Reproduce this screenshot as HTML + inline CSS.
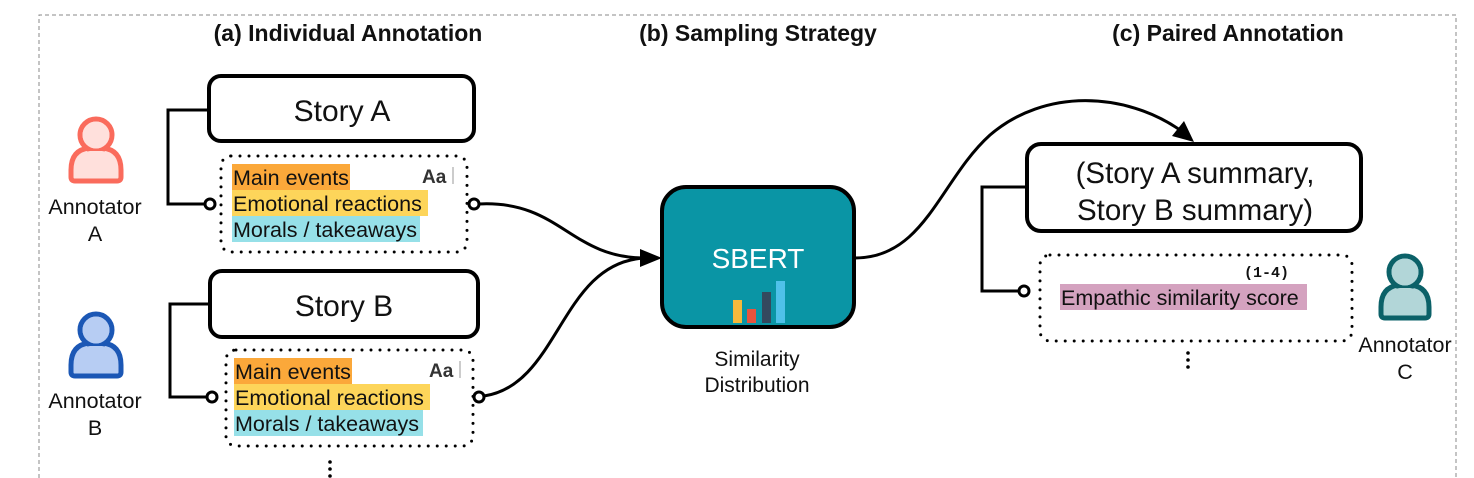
<!DOCTYPE html>
<html><head><meta charset="utf-8"><style>
html,body{margin:0;padding:0;background:#fff;}
svg{display:block;}
text{font-family:"Liberation Sans","DejaVu Sans",sans-serif;}
text.mono{font-family:"Liberation Mono","DejaVu Sans Mono",monospace;}
</style></head><body>
<svg width="1474" height="478" viewBox="0 0 1474 478" xmlns="http://www.w3.org/2000/svg">
<!-- dashed frame -->
<path d="M39,478 V15 H1456 V478" fill="none" stroke="#888" stroke-width="1" stroke-dasharray="4,3"/>

<!-- headers -->
<g font-weight="bold" font-size="23" text-anchor="middle" fill="#111">
<text x="348" y="41">(a) Individual Annotation</text>
<text x="758" y="41">(b) Sampling Strategy</text>
<text x="1228" y="41">(c) Paired Annotation</text>
</g>

<!-- person icons -->
<g>
<path d="M71,177 V170 Q71,150 89,148 H103 Q121,150 121,170 V177 Q121,181 117,181 H75 Q71,181 71,177 Z" fill="#ffe0dc" stroke="#fa6b5c" stroke-width="5"/>
<circle cx="96" cy="135" r="16" fill="#ffe0dc" stroke="#fa6b5c" stroke-width="5"/>
<path d="M74,177 V170 Q74,153 90,151 H102 Q118,153 118,170 V177 Z" fill="#ffe0dc"/>
<circle cx="96" cy="135" r="13.5" fill="#ffe0dc"/>
</g>
<g>
<path d="M71,372 V365 Q71,345 89,343 H103 Q121,345 121,365 V372 Q121,376 117,376 H75 Q71,376 71,372 Z" fill="#b7cdf3" stroke="#1b57b5" stroke-width="5"/>
<circle cx="96" cy="330" r="16" fill="#b7cdf3" stroke="#1b57b5" stroke-width="5"/>
<path d="M74,372 V365 Q74,348 90,346 H102 Q118,348 118,365 V372 Z" fill="#b7cdf3"/>
<circle cx="96" cy="330" r="13.5" fill="#b7cdf3"/>
</g>
<g>
<path d="M1381,314 V307 Q1381,287 1399,285 H1411 Q1429,287 1429,307 V314 Q1429,318 1425,318 H1385 Q1381,318 1381,314 Z" fill="#b2d6d8" stroke="#0b6168" stroke-width="5"/>
<circle cx="1405" cy="272" r="16" fill="#b2d6d8" stroke="#0b6168" stroke-width="5"/>
<path d="M1384,314 V307 Q1384,290 1400,288 H1410 Q1426,290 1426,307 V314 Z" fill="#b2d6d8"/>
<circle cx="1405" cy="272" r="13.5" fill="#b2d6d8"/>
</g>
<g font-size="21.5" text-anchor="middle" fill="#111">
<text x="95" y="214">Annotator</text><text x="95" y="241">A</text>
<text x="95" y="408">Annotator</text><text x="95" y="435">B</text>
<text x="1405" y="352">Annotator</text><text x="1405" y="379">C</text>
</g>

<!-- Story A -->
<rect x="209" y="76" width="265" height="65" rx="12" fill="#fff" stroke="#000" stroke-width="4"/>
<text x="342" y="121" font-size="30" text-anchor="middle" fill="#111">Story A</text>
<rect x="221" y="156" width="246" height="96" rx="10" fill="none" stroke="#000" stroke-width="3" stroke-dasharray="0,9" stroke-linecap="round"/>
<rect x="232" y="164" width="118" height="26" fill="#fba83a"/>
<rect x="232" y="190" width="196" height="26" fill="#fdd55a"/>
<rect x="232" y="216" width="188" height="26" fill="#96e0e8"/>
<g font-size="21.5" fill="#111">
<text x="233" y="185">Main events</text>
<text x="233" y="211">Emotional reactions</text>
<text x="233" y="237">Morals / takeaways</text>
</g>
<text x="422" y="183" font-size="19" font-weight="bold" fill="#333">Aa</text>
<line x1="453" y1="167" x2="453" y2="184" stroke="#999" stroke-width="1"/>
<path d="M209,110 H168 V204 H206" fill="none" stroke="#000" stroke-width="3"/>
<circle cx="210" cy="204" r="5" fill="#fff" stroke="#000" stroke-width="3"/>

<!-- Story B -->
<rect x="210" y="271" width="268" height="66" rx="12" fill="#fff" stroke="#000" stroke-width="4"/>
<text x="344" y="316" font-size="30" text-anchor="middle" fill="#111">Story B</text>
<rect x="226" y="350" width="247" height="96" rx="10" fill="none" stroke="#000" stroke-width="3" stroke-dasharray="0,9" stroke-linecap="round"/>
<rect x="234" y="358" width="118" height="26" fill="#fba83a"/>
<rect x="234" y="384" width="196" height="26" fill="#fdd55a"/>
<rect x="234" y="410" width="189" height="26" fill="#96e0e8"/>
<g font-size="21.5" fill="#111">
<text x="235" y="379">Main events</text>
<text x="235" y="405">Emotional reactions</text>
<text x="235" y="431">Morals / takeaways</text>
</g>
<text x="429" y="377" font-size="19" font-weight="bold" fill="#333">Aa</text>
<line x1="460" y1="361" x2="460" y2="378" stroke="#999" stroke-width="1"/>
<path d="M210,304 H170 V397 H208" fill="none" stroke="#000" stroke-width="3"/>
<circle cx="212" cy="397" r="5" fill="#fff" stroke="#000" stroke-width="3"/>
<g fill="#000"><circle cx="330" cy="462" r="1.8"/><circle cx="330" cy="469" r="1.8"/><circle cx="330" cy="476" r="1.8"/></g>

<!-- connectors into SBERT -->
<circle cx="474" cy="204" r="5" fill="#fff" stroke="#000" stroke-width="3"/>
<path d="M479,204 C560,200 570,258 645,258" fill="none" stroke="#000" stroke-width="3"/>
<circle cx="479" cy="397" r="5" fill="#fff" stroke="#000" stroke-width="3"/>
<path d="M484,396 C560,385 560,262 645,258" fill="none" stroke="#000" stroke-width="3"/>
<path d="M640,249 L662,258 L640,267 Z" fill="#000"/>

<!-- SBERT -->
<rect x="662" y="187" width="192" height="140" rx="24" fill="#0a95a5" stroke="#000" stroke-width="4"/>
<text x="758" y="268" font-size="28" text-anchor="middle" fill="#fff">SBERT</text>
<rect x="733" y="300" width="9" height="23" fill="#f6b93b"/>
<rect x="747" y="309" width="9" height="14" fill="#e9533d"/>
<rect x="762" y="292" width="9" height="31" fill="#34495e"/>
<rect x="776" y="281" width="9" height="42" fill="#4fc1e9"/>
<g font-size="21" text-anchor="middle" fill="#111">
<text x="757" y="366">Similarity</text>
<text x="757" y="392">Distribution</text>
</g>

<!-- curve to summary -->
<path d="M855,258 C925,258 940,180 990,135 C1045,88 1125,92 1180,130" fill="none" stroke="#000" stroke-width="3"/>
<path d="M1172,136 L1194,142 L1184,121 Z" fill="#000"/>

<!-- Summary box -->
<rect x="1027" y="144" width="334" height="87" rx="14" fill="#fff" stroke="#000" stroke-width="4"/>
<g font-size="29.5" text-anchor="middle" fill="#111">
<text x="1195" y="183">(Story A summary,</text>
<text x="1195" y="220">Story B summary)</text>
</g>
<rect x="1040" y="255" width="312" height="86" rx="10" fill="none" stroke="#000" stroke-width="3" stroke-dasharray="0,9" stroke-linecap="round"/>
<text class="mono" x="1244" y="277" font-size="15" font-weight="bold" fill="#111">(1-4)</text>
<rect x="1060" y="284" width="247" height="26" fill="#d4a2bf"/>
<text x="1061" y="305" font-size="21.5" fill="#111">Empathic similarity score</text>
<path d="M1025,187 H982 V291 H1018" fill="none" stroke="#000" stroke-width="3"/>
<circle cx="1024" cy="291" r="5" fill="#fff" stroke="#000" stroke-width="3"/>
<g fill="#000"><circle cx="1188" cy="353" r="1.8"/><circle cx="1188" cy="360" r="1.8"/><circle cx="1188" cy="367" r="1.8"/></g>
</svg>
</body></html>
